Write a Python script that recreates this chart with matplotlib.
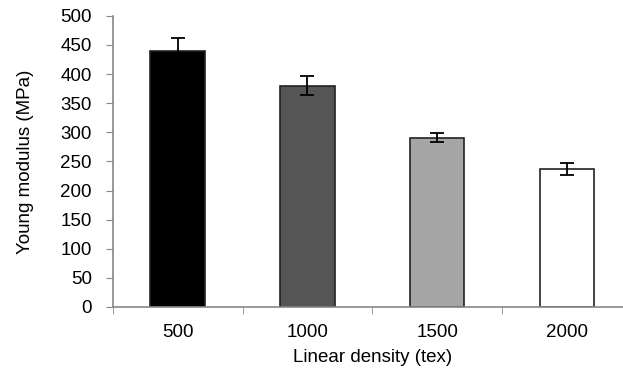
import matplotlib
matplotlib.use("Agg")
import matplotlib.pyplot as plt

plt.rcParams['font.family'] = ['Liberation Sans', 'DejaVu Sans']

densities = ["500", "1000", "1500", "2000"]
modulus = [440, 380, 291, 237]
errors = [22, 16, 8, 10]
colors = ["#000000", "#555555", "#a6a6a6", "#ffffff"]

fig = plt.figure(figsize=(6.23, 3.78), dpi=100)
ax = fig.add_axes([0.181, 0.188, 0.833, 0.77])

x = range(len(densities))
ax.bar(x, modulus, width=0.42, color=colors, edgecolor="#222222", linewidth=1.2,
       yerr=errors, error_kw=dict(ecolor="black", elinewidth=1.3, capsize=5, capthick=1.3))

ax.set_xlim(-0.5, 3.5)
ax.set_ylim(0, 500)
ax.set_yticks(range(0, 501, 50))
ax.set_xticks(x)
ax.set_xticklabels(densities)
# category boundaries carry the tick marks, labels sit between them
ax.set_xticks([-0.5, 0.5, 1.5, 2.5, 3.5], minor=True)
ax.tick_params(axis='x', which='major', length=0, pad=12, labelsize=13.5)
ax.tick_params(axis='x', which='minor', length=5, color="#888888", direction='out')
ax.tick_params(axis='y', length=5, pad=10, color="#888888", labelsize=13.5, direction='out')

for side in ['top', 'right']:
    ax.spines[side].set_visible(False)
for side in ['left', 'bottom']:
    ax.spines[side].set_color("#888888")
    ax.spines[side].set_linewidth(1.2)

ax.set_xlabel("Linear density (tex)", fontsize=13.5, labelpad=6)
ax.set_ylabel("Young modulus (MPa)", fontsize=13.5, labelpad=19)

fig.savefig("out.png", dpi=100)
